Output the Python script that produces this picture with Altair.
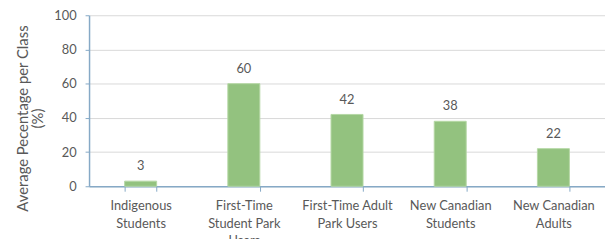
import altair as alt
import pandas as pd

categories = ["Indigenous|Students", "First-Time|Student Park|Users", "First-Time Adult|Park Users",
              "New Canadian|Students", "New Canadian|Adults"]
values = [3, 60, 42, 38, 22]
y_ticks = [0, 20, 40, 60, 80, 100]

df = pd.DataFrame({"cat": categories, "val": values})

FONT = "Lato"
GREY = "#595959"
AXIS = "#86a9c6"

x = alt.X("cat:N", sort=categories,
          scale=alt.Scale(paddingInner=0.69, paddingOuter=0.345),
          axis=alt.Axis(title=None, labelAngle=0, labelExpr="split(datum.label, '|')",
                        labelFont=FONT, labelFontSize=13, labelColor=GREY, labelPadding=9,
                        labelLineHeight=17.5, labelOverlap=False, labelBaseline="top",
                        tickBand="extent", tickSize=5, tickColor=AXIS,
                        domainColor=AXIS, domainWidth=1.5, grid=False))
y = alt.Y("val:Q", scale=alt.Scale(domain=[0, 100], nice=False),
          axis=alt.Axis(values=y_ticks, title=["Average Pecentage per Class", "(%)"],
                        titleFont=FONT, titleFontSize=15, titleFontWeight="normal",
                        titleColor=GREY, titlePadding=8, titleLineHeight=16, titleY=104,
                        labelFont=FONT, labelFontSize=13, labelColor=GREY, labelPadding=9,
                        labelOverlap=False, labelFlush=False,
                        tickSize=4, tickColor=AXIS, domainColor=AXIS, domainWidth=1.5,
                        gridColor="#d9d9d9", gridWidth=1))

bars = alt.Chart(df).mark_bar(color="#93c27f", stroke="#b5d8a5", strokeWidth=1).encode(x=x, y=y)
text = alt.Chart(df).mark_text(dy=-15, font=FONT, fontSize=13, color=GREY).encode(
    x=x, y=y, text="val:Q")

chart = (bars + text).properties(
    width=522, height=173,
    autosize=alt.AutoSizeParams(type="none"),
    padding={"left": 82, "top": 6, "right": 0, "bottom": 52},
).configure_view(stroke=None)

chart.save("out.html", embed_options={"renderer": "svg", "actions": False})
